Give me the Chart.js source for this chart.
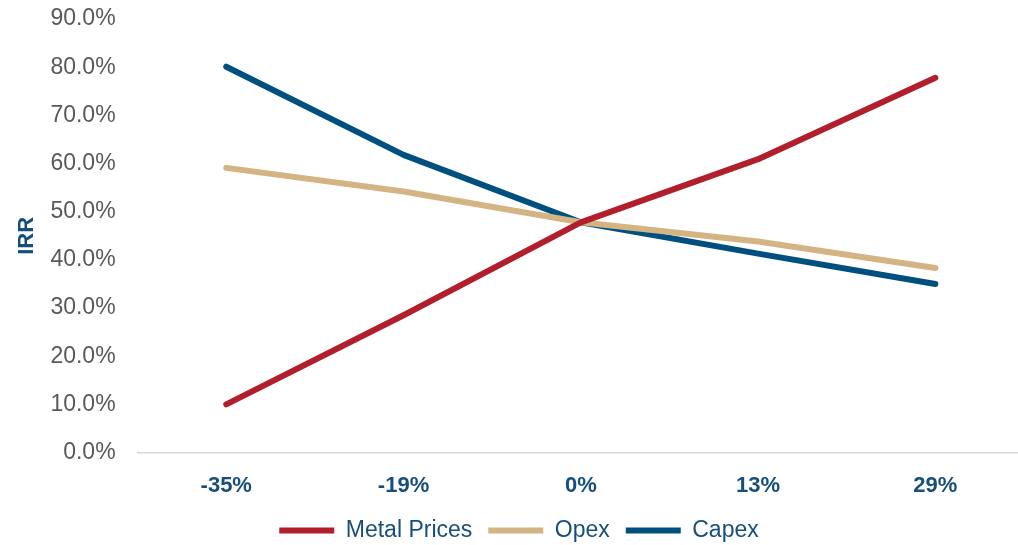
<!DOCTYPE html>
<html>
<head>
<meta charset="utf-8">
<script src="https://cdn.jsdelivr.net/npm/chart.js@4.4.1/dist/chart.umd.min.js"></script>
<style>
  html, body { margin: 0; padding: 0; background: #fff; overflow: hidden; }
  #wrap { width: 1024px; height: 545px; position: relative; }
</style>
</head>
<body>
<div id="wrap"><canvas id="irr"></canvas></div>
<script>
// ── Sensitivity data (IRR, %) ────────────────────────────────────────────
const labels      = ['-35%', '-19%', '0%', '13%', '29%'];
const metalPrices = [10.0, 28.5, 47.8, 60.9, 77.8];
const opex        = [59.1, 54.2, 47.8, 43.8, 38.3];
const capex       = [80.1, 61.8, 47.8, 41.3, 35.0];
const yTicks      = [0, 10, 20, 30, 40, 50, 60, 70, 80, 90];

const RED  = '#b21f2c';
const TAN  = '#d4b483';
const BLUE = '#00507f';
const NAVY = '#174f7c';
const GREY = '#595959';
const SANS = '"Liberation Sans", Arial, sans-serif';

const series = (label, data, color) => ({
  label, data,
  borderColor: color,
  backgroundColor: color,
  borderWidth: 6,
  borderCapStyle: 'round',
  borderJoinStyle: 'round',
  pointRadius: 0,
  pointHoverRadius: 0,
  tension: 0,
  fill: false,
});

new Chart(document.getElementById('irr'), {
  type: 'line',
  data: {
    labels,
    datasets: [
      series('Metal Prices', metalPrices, RED),
      series('Opex', opex, TAN),
      series('Capex', capex, BLUE),
    ],
  },
  options: {
    responsive: true,
    maintainAspectRatio: false,
    animation: false,
    layout: { padding: { top: 19, left: 14, right: 0, bottom: -7 } },
    plugins: {
      tooltip: { enabled: false },
      legend: {
        position: 'bottom',
        labels: {
          usePointStyle: true,
          pointStyle: 'line',
          pointStyleWidth: 55,
          padding: 16,
          color: NAVY,
          font: { family: SANS, size: 23 },
        },
      },
    },
    scales: {
      x: {
        offset: true,
        grid: { display: false, drawTicks: false },
        border: { display: true, color: '#d9d9d9', width: 1.5 },
        ticks: {
          color: NAVY,
          padding: 20,
          font: { family: SANS, size: 22, weight: 'bold' },
        },
        // pull the legend up closer to the category labels
        afterFit: scale => { scale.height -= 16; },
      },
      y: {
        min: 0,
        max: 90,
        afterBuildTicks: axis => { axis.ticks = yTicks.map(v => ({ value: v })); },
        // tick padding should only push labels sideways, not shrink the plot
        afterFit: scale => { scale.paddingTop = 0; scale.paddingBottom = 0; },
        grid: { display: false, drawTicks: false },
        border: { display: false },
        title: {
          display: true,
          text: 'IRR',
          color: NAVY,
          padding: { top: 0, bottom: -12 },
          font: { family: SANS, size: 22, weight: 'bold' },
        },
        ticks: {
          color: GREY,
          padding: 22,
          font: { family: SANS, size: 23 },
          callback: v => v.toFixed(1) + '%',
        },
      },
    },
  },
});
</script>
</body>
</html>
